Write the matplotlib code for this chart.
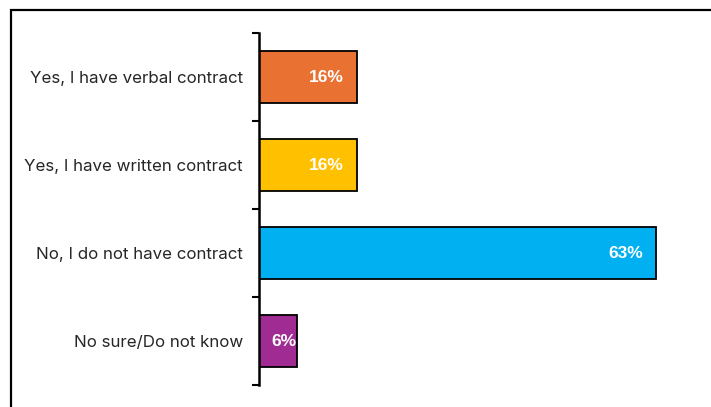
import matplotlib
matplotlib.use('Agg')
import matplotlib.pyplot as plt
from matplotlib.patches import Rectangle

categorias = ['Yes, I have verbal contract', 'Yes, I have written contract',
              'No, I do not have contract', 'No sure/Do not know']
valores = [15.6, 15.6, 63.0, 6.0]
colores = ['#E97132', '#FFC000', '#00B0F0', '#A02B93']

fig = plt.figure(figsize=(7.11, 4.07), dpi=100)
ax = fig.add_axes([259/711, 1 - 385/407, 441/711, 352/407])

# marco exterior del gráfico
fig.patches.append(Rectangle((11/711, -0.1), 1.2, 1 - 10/407 + 0.1,
                             transform=fig.transFigure, fill=False,
                             edgecolor='black', linewidth=1.6))

pos = range(len(categorias))
bars = ax.barh(pos, valores, height=0.6, color=colores,
               edgecolor='black', linewidth=1.3)

for bar, v in zip(bars, valores):
    y = bar.get_y() + bar.get_height() / 2
    # en barras cortas la etiqueta queda pegada al extremo
    desplaz = -0.5 if v < 10 else -9.5
    ax.annotate(f'{v:.0f}%', (v, y), xytext=(desplaz, 0), textcoords='offset points',
                ha='right', va='center', color='white',
                fontsize=12.5, fontweight='bold', family='Liberation Sans')

ax.set_xlim(0, 70)
ax.set_ylim(3.5, -0.5)
ax.set_yticks(list(pos))
ax.set_yticklabels(categorias, fontsize=12.2, color='#262626', family='Inter')
ax.tick_params(axis='y', which='major', length=0, pad=11.5)
ax.set_yticks([-0.5, 0.5, 1.5, 2.5, 3.5], minor=True)
ax.tick_params(axis='y', which='minor', length=5, width=1.5, color='black')
ax.set_xticks([])
for lado in ['top', 'right', 'bottom']:
    ax.spines[lado].set_visible(False)
ax.spines['left'].set_linewidth(1.8)

plt.savefig('out.png', dpi=100)
